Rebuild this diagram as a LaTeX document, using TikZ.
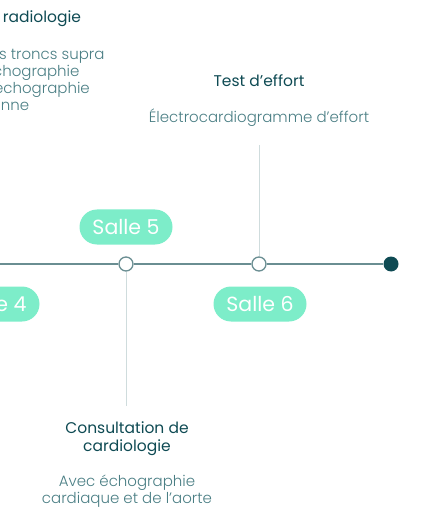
\documentclass[tikz,border=0pt]{standalone}
\usepackage{fontspec}
\setmainfont{Poppins}
\newfontfamily\lightf{Poppins Light}
\definecolor{dark}{HTML}{0E4A53}
\definecolor{linec}{HTML}{6A8E92}
\definecolor{stemc}{HTML}{CFDCDD}
\definecolor{descc}{HTML}{4A7E84}
\definecolor{mint}{HTML}{7DEDC9}
\tikzset{
  pill/.style={fill=mint, rounded corners=17.5pt, minimum width=93pt, minimum height=35pt, text=white, font=\fontsize{20.5}{20.5}\selectfont, inner sep=0pt},
  opendot/.style={circle, draw=linec, fill=white, line width=1.3pt, minimum size=14pt, inner sep=0pt},
  enddot/.style={circle, fill=dark, minimum size=15pt, inner sep=0pt},
  head/.style={text=dark, font=\fontsize{15.5}{18}\selectfont, align=center, inner sep=0pt},
  desc/.style={text=descc, font=\lightf\fontsize{15}{17}\selectfont, align=center, inner sep=0pt},
  timeline/.style={draw=linec, line width=1.6pt},
  stem/.style={draw=stemc, line width=1pt}
}
\begin{document}
\begin{tikzpicture}[x=1pt,y=-1pt]
\useasboundingbox (0,0) rectangle (434,510);
\clip (0,0) rectangle (434,510);
\coordinate (start) at (-40,264);
\node[opendot] (c5) at (126,264) {};
\node[opendot] (c6) at (259,264) {};
\node[enddot] (end) at (391,264) {};
\draw[timeline] (start) -- (c5) (c5) -- (c6) (c6) -- (end);
\coordinate (top6) at (259,145);
\coordinate (bot5) at (126,406);
\draw[stem] (c6) -- (top6);
\draw[stem] (c5) -- (bot5);
\node[pill] (s5) at (126,227) {Salle 5};
\node[pill] (s6) at (260,304) {Salle 6};
\node[pill] (s4) at (-7,304) {Salle 4};
\node[head] (h6) at (259,81) {Test d’effort};
\node[desc] (d6) at (259,118) {Électrocardiogramme d’effort};
\node[head] (h5) at (127,439) {Consultation de\\cardiologie};
\node[desc] (d5) at (127,491) {Avec échographie\\cardiaque et de l’aorte};
\node[head] (h4) at (-7,19) {Examens de radiologie};
\node[desc] (d4) at (-7,80) {Échographie des troncs supra\\aortiques, échographie\\abdominale, échographie\\pelvienne};
\end{tikzpicture}
\end{document}
